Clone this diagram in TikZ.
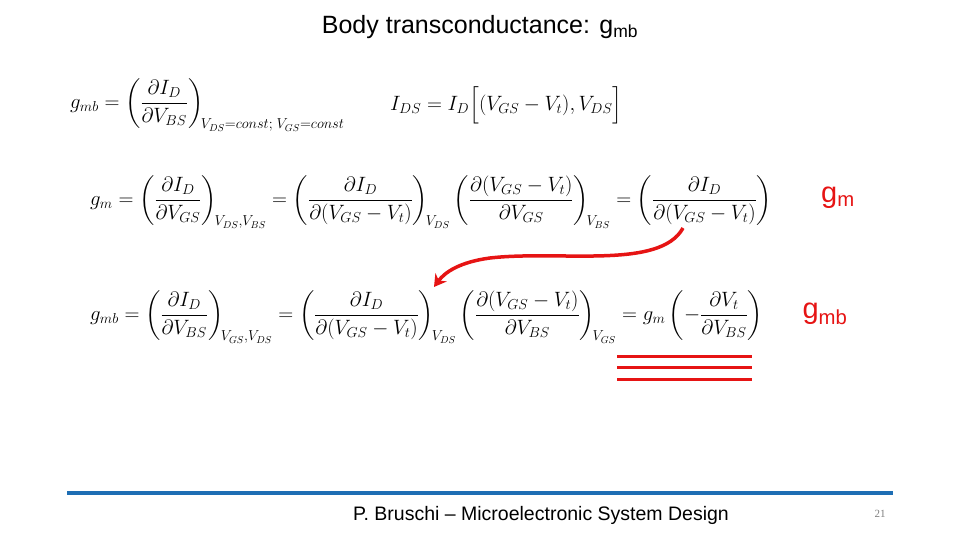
\documentclass[tikz,border=0pt]{standalone}
\usepackage{amsmath}
\usepackage{fontspec}
\usetikzlibrary{arrows.meta}
\setmainfont{Liberation Sans}
\newfontfamily\serifnum{Liberation Serif}
\definecolor{myblue}{RGB}{30,110,180}
\definecolor{myred}{RGB}{230,20,20}
\begin{document}
\begin{tikzpicture}[x=1pt,y=-1pt,
  eq/.style={inner sep=0pt,font=\fontsize{19.5}{24}\selectfont},
  redlbl/.style={inner sep=0pt,text=myred,font=\fontsize{29}{32}\selectfont},
  redline/.style={myred,line width=3pt}]
\useasboundingbox (0,0) rectangle (960,540);
\node[inner sep=0pt,font=\fontsize{25}{28}\selectfont] (title) at (480,27) {Body transconductance: g\textsubscript{mb}};
\node[eq,anchor=west] (e1) at (70,105) {$g_{mb}=\left(\dfrac{\partial I_D}{\partial V_{BS}}\right)_{\!V_{DS}=const;\;V_{GS}=const}$};
\node[eq,anchor=west] (e1b) at (390,105) {$I_{DS}=I_D\Big[(V_{GS}-V_t),V_{DS}\Big]$};
\node[eq,anchor=west] (e2) at (90,202) {$g_m=\left(\dfrac{\partial I_D}{\partial V_{GS}}\right)_{\!V_{DS},V_{BS}}=\left(\dfrac{\partial I_D}{\partial(V_{GS}-V_t)}\right)_{\!V_{DS}}\left(\dfrac{\partial(V_{GS}-V_t)}{\partial V_{GS}}\right)_{\!V_{BS}}=\left(\dfrac{\partial I_D}{\partial(V_{GS}-V_t)}\right)$};
\node[eq,anchor=west] (e3) at (90,317) {$g_{mb}=\left(\dfrac{\partial I_D}{\partial V_{BS}}\right)_{\!V_{GS},V_{DS}}=\left(\dfrac{\partial I_D}{\partial(V_{GS}-V_t)}\right)_{\!V_{DS}}\left(\dfrac{\partial(V_{GS}-V_t)}{\partial V_{BS}}\right)_{\!V_{GS}}=g_m\left(-\dfrac{\partial V_t}{\partial V_{BS}}\right)$};
\node[redlbl] (gm) at (838,198) {g\textsubscript{m}};
\node[redlbl] (gmb) at (825,314) {g\textsubscript{mb}};
\coordinate (a1) at (683,228);
\coordinate (a2) at (434,287);
\draw[myred,line width=3.5pt,-{Stealth[length=12pt,width=14pt]}] (a1) .. controls (660,270) and (560,250) .. (490,258) .. controls (460,262) and (445,272) .. (a2);
\coordinate (l1a) at (617,356); \coordinate (l1b) at (752,356);
\coordinate (l2a) at (617,367); \coordinate (l2b) at (752,367);
\coordinate (l3a) at (617,379); \coordinate (l3b) at (752,379);
\draw[redline] (l1a) -- (l1b);
\draw[redline] (l2a) -- (l2b);
\draw[redline] (l3a) -- (l3b);
\coordinate (b1) at (67,493); \coordinate (b2) at (893,493);
\draw[myblue,line width=3.5pt] (b1) -- (b2);
\node[inner sep=0pt,font=\fontsize{19.5}{22}\selectfont] (foot) at (541,515) {P. Bruschi -- Microelectronic System Design};
\node[inner sep=0pt,text=gray,font=\serifnum\fontsize{11}{12}\selectfont] (pg) at (880,514) {21};
\end{tikzpicture}
\end{document}
